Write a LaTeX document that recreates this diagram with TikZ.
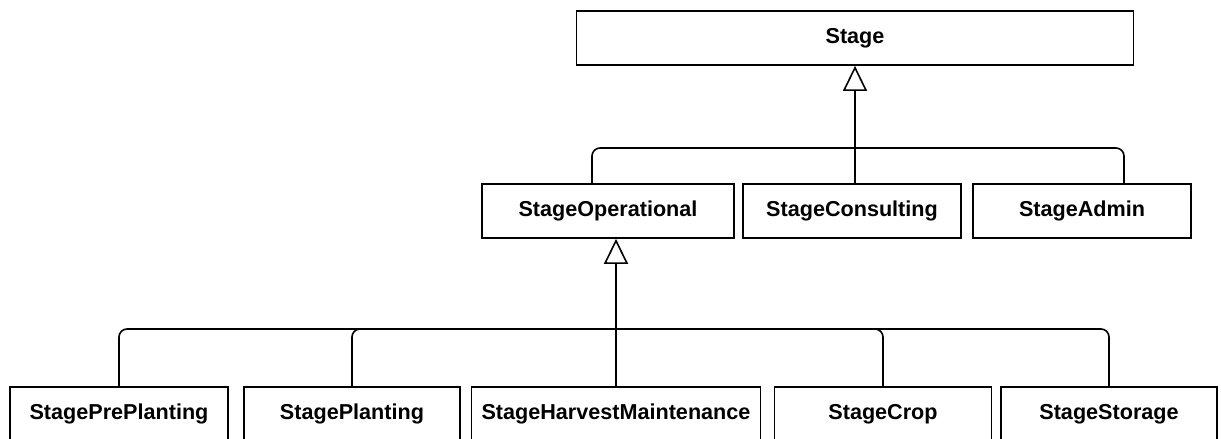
\documentclass[tikz,border=0pt]{standalone}
\usepackage{fontspec}
\setmainfont{Liberation Sans}
\usetikzlibrary{arrows.meta}

\tikzset{
	umlclass/.style={draw, line width=0.9pt, minimum height=27pt, inner sep=0pt,
		font=\fontsize{10.8}{12}\selectfont\bfseries},
	inherit/.style={line width=0.8pt, -{Triangle[open, width=12pt, length=12.5pt]}},
	branch/.style={line width=0.8pt, rounded corners=4pt},
}

\begin{document}
\begin{tikzpicture}[x=0.5pt, y=-0.5pt]%[show background grid]

	\useasboundingbox (0,0) rectangle (1221,439);
	\clip (0,0) rectangle (1221,439);

	\node[umlclass, minimum width=278.5pt] (Stage) at (855,38) {Stage};

	\node[umlclass, minimum width=126pt] (StageOperational) at (608,211) {StageOperational};
	\node[umlclass, minimum width=109pt] (StageConsulting) at (852,211) {StageConsulting};
	\node[umlclass, minimum width=109pt] (StageAdmin) at (1082,211) {StageAdmin};

	\node[umlclass, minimum width=109pt] (StagePrePlanting) at (119,414) {StagePrePlanting};
	\node[umlclass, minimum width=108pt] (StagePlanting) at (352,414) {StagePlanting};
	\node[umlclass, minimum width=144.5pt] (StageHarvestMaintenance) at (616,414) {StageHarvestMaintenance};
	\node[umlclass, minimum width=108.5pt] (StageCrop) at (883,414) {StageCrop};
	\node[umlclass, minimum width=108pt] (StageStorage) at (1109,414) {StageStorage};

	\coordinate (topBus) at (Stage.south |- 0,148);
	\coordinate (lowBus) at (StageHarvestMaintenance.north |- 0,329);

	\draw[inherit] (Stage.south |- StageConsulting.north) -- (Stage.south);
	\draw[branch] ([xshift=-8pt]StageOperational.north) |- (topBus);
	\draw[branch] ([xshift=21pt]StageAdmin.north) |- (topBus);

	\draw[inherit] (StageHarvestMaintenance.north) -- (StageHarvestMaintenance.north |- StageOperational.south);
	\draw[branch] (StagePrePlanting.north) |- (lowBus);
	\draw[branch] (StagePlanting.north) |- (lowBus);
	\draw[branch] (StageCrop.north) |- (lowBus);
	\draw[branch] (StageStorage.north) |- (lowBus);

\end{tikzpicture}
\end{document}
